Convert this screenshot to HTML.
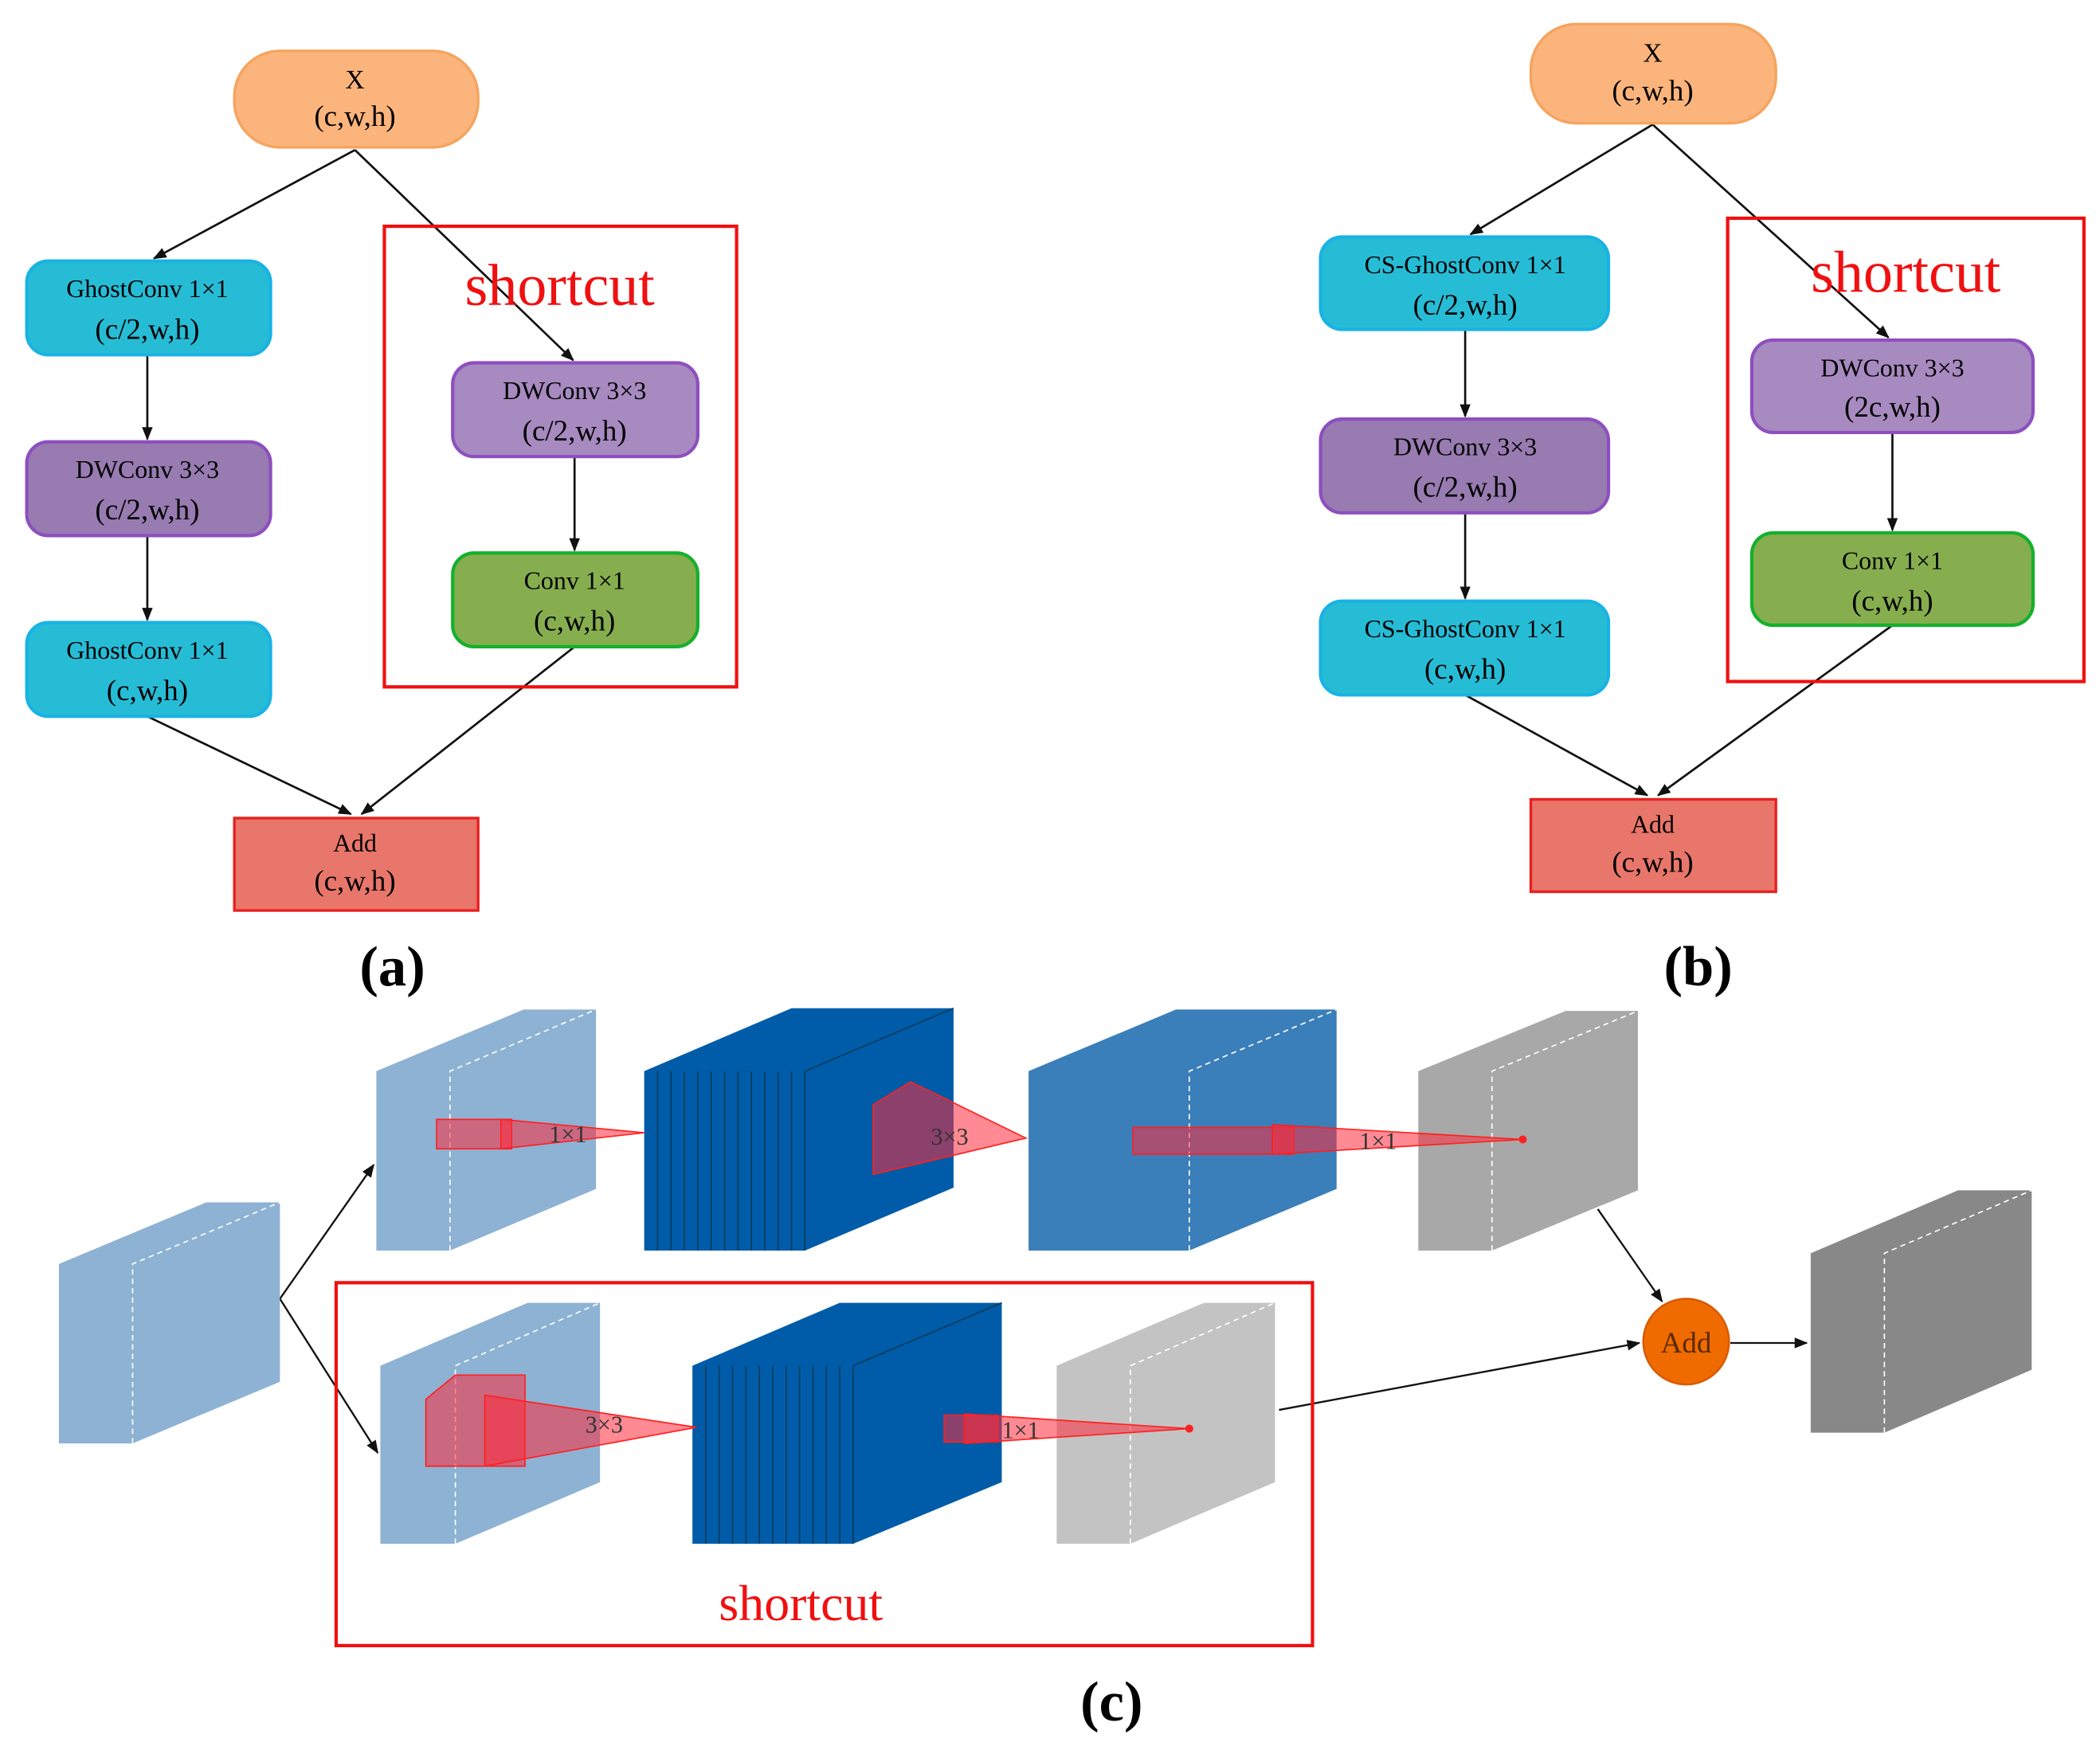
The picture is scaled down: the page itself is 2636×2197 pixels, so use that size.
<!DOCTYPE html>
<html><head><meta charset="utf-8"><style>
html,body{margin:0;padding:0;background:#fff;}
svg{display:block;}
text{font-family:"Liberation Serif",serif;}
</style></head><body>
<svg width="2636" height="2197" viewBox="0 0 1568 1307" preserveAspectRatio="none" xmlns="http://www.w3.org/2000/svg">
<defs>
<marker id="ah" markerWidth="10" markerHeight="10" refX="9" refY="5" orient="auto" markerUnits="userSpaceOnUse"><path d="M0,1 L10,5 L0,9 z" fill="#111"/></marker>
</defs>
<!-- Panel a -->
<g stroke="#111" stroke-width="1.6" fill="none" marker-end="url(#ah)">
<line x1="265" y1="112" x2="115" y2="193"/>
<line x1="265" y1="112" x2="428" y2="269"/>
<line x1="110" y1="265" x2="110" y2="328"/>
<line x1="110" y1="400" x2="110" y2="463"/>
<line x1="429" y1="341" x2="429" y2="411"/>
<line x1="110" y1="535" x2="262" y2="608"/>
<line x1="429" y1="483" x2="270" y2="608"/>
</g>
<rect x="175" y="38" width="182" height="72" rx="34" fill="#fbb47c" stroke="#f6a45e" stroke-width="2"/>
<text x="265" y="66" font-size="20" text-anchor="middle">X</text>
<text x="265" y="94" font-size="22" text-anchor="middle">(c,w,h)</text>
<rect x="20" y="195" width="182" height="70" rx="16" fill="#27bcd6" stroke="#19b3e3" stroke-width="2.5"/>
<text x="110" y="222" font-size="19" text-anchor="middle">GhostConv 1×1</text>
<text x="110" y="253" font-size="22" text-anchor="middle">(c/2,w,h)</text>
<rect x="20" y="330" width="182" height="70" rx="16" fill="#987bb1" stroke="#8d4fbf" stroke-width="2.5"/>
<text x="110" y="357" font-size="19" text-anchor="middle">DWConv 3×3</text>
<text x="110" y="388" font-size="22" text-anchor="middle">(c/2,w,h)</text>
<rect x="20" y="465" width="182" height="70" rx="16" fill="#27bcd6" stroke="#19b3e3" stroke-width="2.5"/>
<text x="110" y="492" font-size="19" text-anchor="middle">GhostConv 1×1</text>
<text x="110" y="523" font-size="22" text-anchor="middle">(c,w,h)</text>
<rect x="287" y="169" width="263" height="344" fill="none" stroke="#f01010" stroke-width="2.5"/>
<text x="418" y="228" font-size="44" fill="#f01010" text-anchor="middle">shortcut</text>
<rect x="338" y="271" width="183" height="70" rx="16" fill="#a78ac0" stroke="#8d4fbf" stroke-width="2.5"/>
<text x="429" y="298" font-size="19" text-anchor="middle">DWConv 3×3</text>
<text x="429" y="329" font-size="22" text-anchor="middle">(c/2,w,h)</text>
<rect x="338" y="413" width="183" height="70" rx="16" fill="#86ae4e" stroke="#14b02c" stroke-width="2.5"/>
<text x="429" y="440" font-size="19" text-anchor="middle">Conv 1×1</text>
<text x="429" y="471" font-size="22" text-anchor="middle">(c,w,h)</text>
<rect x="175" y="611" width="182" height="69" fill="#e8766a" stroke="#e82020" stroke-width="2"/>
<text x="265" y="636" font-size="19" text-anchor="middle">Add</text>
<text x="265" y="665" font-size="22" text-anchor="middle">(c,w,h)</text>
<text x="293" y="736" font-size="42" font-weight="bold" text-anchor="middle">(a)</text>

<!-- Panel b -->
<g stroke="#111" stroke-width="1.6" fill="none" marker-end="url(#ah)">
<line x1="1234" y1="93" x2="1098" y2="175"/>
<line x1="1234" y1="93" x2="1410" y2="252"/>
<line x1="1094" y1="246" x2="1094" y2="311"/>
<line x1="1094" y1="383" x2="1094" y2="447"/>
<line x1="1413" y1="323" x2="1413" y2="396"/>
<line x1="1094" y1="519" x2="1230" y2="594"/>
<line x1="1413" y1="467" x2="1238" y2="594"/>
</g>
<rect x="1143" y="18" width="183" height="74" rx="34" fill="#fbb47c" stroke="#f6a45e" stroke-width="2"/>
<text x="1234" y="46" font-size="20" text-anchor="middle">X</text>
<text x="1234" y="75" font-size="22" text-anchor="middle">(c,w,h)</text>
<rect x="986" y="177" width="215" height="69" rx="16" fill="#27bcd6" stroke="#19b3e3" stroke-width="2.5"/>
<text x="1094" y="204" font-size="19" text-anchor="middle">CS-GhostConv 1×1</text>
<text x="1094" y="235" font-size="22" text-anchor="middle">(c/2,w,h)</text>
<rect x="986" y="313" width="215" height="70" rx="16" fill="#987bb1" stroke="#8d4fbf" stroke-width="2.5"/>
<text x="1094" y="340" font-size="19" text-anchor="middle">DWConv 3×3</text>
<text x="1094" y="371" font-size="22" text-anchor="middle">(c/2,w,h)</text>
<rect x="986" y="449" width="215" height="70" rx="16" fill="#27bcd6" stroke="#19b3e3" stroke-width="2.5"/>
<text x="1094" y="476" font-size="19" text-anchor="middle">CS-GhostConv 1×1</text>
<text x="1094" y="507" font-size="22" text-anchor="middle">(c,w,h)</text>
<rect x="1290" y="163" width="266" height="346" fill="none" stroke="#f01010" stroke-width="2.5"/>
<text x="1423" y="218" font-size="44" fill="#f01010" text-anchor="middle">shortcut</text>
<rect x="1308" y="254" width="210" height="69" rx="16" fill="#a78ac0" stroke="#8d4fbf" stroke-width="2.5"/>
<text x="1413" y="281" font-size="19" text-anchor="middle">DWConv 3×3</text>
<text x="1413" y="311" font-size="22" text-anchor="middle">(2c,w,h)</text>
<rect x="1308" y="398" width="210" height="69" rx="16" fill="#86ae4e" stroke="#14b02c" stroke-width="2.5"/>
<text x="1413" y="425" font-size="19" text-anchor="middle">Conv 1×1</text>
<text x="1413" y="456" font-size="22" text-anchor="middle">(c,w,h)</text>
<rect x="1143" y="597" width="183" height="69" fill="#e8766a" stroke="#e82020" stroke-width="2"/>
<text x="1234" y="622" font-size="19" text-anchor="middle">Add</text>
<text x="1234" y="651" font-size="22" text-anchor="middle">(c,w,h)</text>
<text x="1268" y="736" font-size="42" font-weight="bold" text-anchor="middle">(b)</text>

<!-- Panel c -->
<g stroke="#111" stroke-width="1.4" fill="none" marker-end="url(#ah)">
<line x1="209" y1="970" x2="279" y2="870"/>
<line x1="209" y1="970" x2="282" y2="1085"/>
<line x1="1193" y1="903" x2="1241" y2="972"/>
<line x1="955" y1="1053" x2="1224" y2="1003"/>
<line x1="1292" y1="1003" x2="1349" y2="1003"/>
</g>
<g stroke="none">
<polygon points="44,944 154,898 209,898 209,1032 99,1078 44,1078" fill="#8db2d3"/>
<polygon points="281,800 391,754 445,754 445,888 336,934 281,934" fill="#8db2d3"/>
<polygon points="768,800 878,754 998,754 998,888 888,934 768,934" fill="#3a7eba"/>
<polygon points="1059,800 1169,755 1223,755 1223,889 1114,934 1059,934" fill="#a8a8a8"/>
<polygon points="1352,936 1462,889 1517,889 1517,1023 1407,1070 1352,1070" fill="#888888"/>
<polygon points="284,1020 394,973 448,973 448,1107 340,1153 284,1153" fill="#8db2d3"/>
<polygon points="789,1020 899,973 952,973 952,1107 844,1153 789,1153" fill="#c3c3c3"/>
</g>
<g stroke="#fff" stroke-width="1" stroke-dasharray="4,3" fill="none">
<polyline points="99,1078 99,944 209,898"/>
<polyline points="336,934 336,800 445,754"/>
<polyline points="888,934 888,800 998,754"/>
<polyline points="1114,934 1114,800 1223,755"/>
<polyline points="1407,1070 1407,936 1517,889"/>
<polyline points="340,1153 340,1020 448,973"/>
<polyline points="844,1153 844,1020 952,973"/>
</g>
<!-- dark stacks -->
<polygon points="481,800 591,753 712,753 712,887 601,934 481,934" fill="#005ca8"/>
<g stroke="#0a3c5c" stroke-width="1">
<line x1="491" y1="800" x2="491" y2="934"/><line x1="501" y1="800" x2="501" y2="934"/><line x1="511" y1="800" x2="511" y2="934"/><line x1="521" y1="800" x2="521" y2="934"/><line x1="531" y1="800" x2="531" y2="934"/><line x1="541" y1="800" x2="541" y2="934"/><line x1="551" y1="800" x2="551" y2="934"/><line x1="561" y1="800" x2="561" y2="934"/><line x1="571" y1="800" x2="571" y2="934"/><line x1="581" y1="800" x2="581" y2="934"/><line x1="591" y1="800" x2="591" y2="934"/><line x1="601" y1="800" x2="601" y2="934"/>
<line x1="601" y1="800" x2="712" y2="753"/>
</g>
<polygon points="517,1020 627,973 748,973 748,1107 637,1153 517,1153" fill="#005ca8"/>
<g stroke="#0a3c5c" stroke-width="1">
<line x1="527" y1="1020" x2="527" y2="1153"/><line x1="537" y1="1020" x2="537" y2="1153"/><line x1="547" y1="1020" x2="547" y2="1153"/><line x1="557" y1="1020" x2="557" y2="1153"/><line x1="567" y1="1020" x2="567" y2="1153"/><line x1="577" y1="1020" x2="577" y2="1153"/><line x1="587" y1="1020" x2="587" y2="1153"/><line x1="597" y1="1020" x2="597" y2="1153"/><line x1="607" y1="1020" x2="607" y2="1153"/><line x1="617" y1="1020" x2="617" y2="1153"/><line x1="627" y1="1020" x2="627" y2="1153"/><line x1="637" y1="1020" x2="637" y2="1153"/>
<line x1="637" y1="1020" x2="748" y2="973"/>
</g>
<!-- red kernels -->
<g fill="#ff2a3a" fill-opacity="0.55" stroke="#ff2020" stroke-width="1">
<rect x="326" y="836" width="56" height="22"/>
<polygon points="374,836 481,846 374,858"/>
<polygon points="652,825 680,808 766,850 652,877"/>
<rect x="846" y="842" width="120" height="20"/>
<polygon points="950,840 1137,851 950,862"/>
<polygon points="318,1045 340,1027 392,1027 392,1095 318,1095"/>
<polygon points="362,1042 520,1066 362,1095"/>
<rect x="705" y="1057" width="40" height="20"/>
<polygon points="720,1056 888,1067 720,1078"/>
</g>
<circle cx="1137" cy="851" r="3" fill="#ff2020"/>
<circle cx="888" cy="1067" r="3" fill="#ff2020"/>
<g font-size="18" fill="#333">
<text x="410" y="853">1×1</text>
<text x="695" y="855">3×3</text>
<text x="1015" y="858">1×1</text>
<text x="437" y="1070">3×3</text>
<text x="748" y="1074">1×1</text>
</g>
<circle cx="1259" cy="1002" r="32" fill="#ef6b00" stroke="#d85a00" stroke-width="1.5"/>
<text x="1259" y="1010" font-size="22" text-anchor="middle" fill="#5a2a00">Add</text>
<rect x="251" y="958" width="729" height="271" fill="none" stroke="#f01010" stroke-width="2.5"/>
<text x="598" y="1210" font-size="38" fill="#f01010" text-anchor="middle">shortcut</text>
<text x="830" y="1285" font-size="42" font-weight="bold" text-anchor="middle">(c)</text>
</svg>
</body></html>
